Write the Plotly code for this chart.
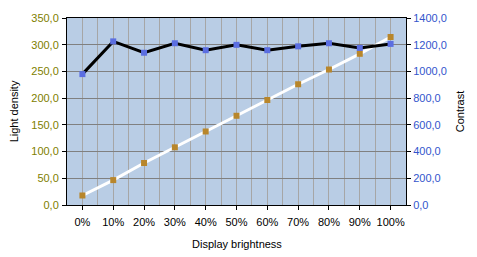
import plotly.graph_objects as go

categories = ["0%", "10%", "20%", "30%", "40%", "50%", "60%", "70%", "80%", "90%", "100%"]
light_density = [17.8, 46.6, 78.6, 108.0, 137.6, 167.0, 196.5, 226.0, 253.6, 283.0, 314.4]
contrast = [980, 1225, 1140, 1211, 1159, 1199, 1159, 1188, 1211, 1176, 1206]

xpos = list(range(len(categories)))
font = "Liberation Sans, Arial, sans-serif"

fig = go.Figure()
fig.add_trace(go.Scatter(
    x=xpos, y=contrast, yaxis="y2", mode="lines+markers",
    line=dict(color="black", width=3),
    marker=dict(symbol="square", size=6, color="#5B6EE1"),
    name="Contrast", showlegend=False))
fig.add_trace(go.Scatter(
    x=xpos, y=light_density, yaxis="y", mode="lines+markers",
    line=dict(color="white", width=3),
    marker=dict(symbol="square", size=6, color="#B8862B"),
    name="Light density", showlegend=False))

fig.update_layout(
    width=477, height=257,
    margin=dict(l=67, r=69, t=15, b=52),
    paper_bgcolor="white", plot_bgcolor="#B9CDE5",
    separators=",.",
    font=dict(family=font, size=11, color="black"),
    xaxis=dict(
        range=[-0.5, 10.5], tickvals=xpos, ticktext=categories,
        showgrid=True, gridcolor="#A6A6A6", gridwidth=1,
        minor=dict(tick0=-0.5, dtick=1, showgrid=True, gridcolor="#A6A6A6", gridwidth=1),
        ticks="outside", ticklen=4, tickcolor="black",
        ticklabelstandoff=3, automargin=False,
        showline=True, linecolor="black", linewidth=1, mirror=True,
        zeroline=False, fixedrange=True,
        tickfont=dict(size=11, color="black"),
    ),
    yaxis=dict(
        range=[0, 350], dtick=50, tickformat=".1f",
        showgrid=True, gridcolor="#808080", gridwidth=1,
        ticks="outside", ticklen=4, tickcolor="black",
        ticklabelstandoff=1,
        showline=True, linecolor="black", linewidth=1,
        zeroline=False,
        title=dict(text="Light density", font=dict(size=11), standoff=10),
        tickfont=dict(size=11, color="#808000"),
    ),
    yaxis2=dict(
        range=[0, 1400], dtick=200, tickformat=".1f",
        overlaying="y", side="right", showgrid=False,
        ticks="outside", ticklen=4, tickcolor="black",
        showline=True, linecolor="black", linewidth=1,
        zeroline=False,
        title=dict(text="Contrast", font=dict(size=11), standoff=10),
        tickfont=dict(size=11, color="#3355CC"),
    ),
    annotations=[dict(
        text="Display brightness", xref="paper", yref="paper",
        x=0.5, y=-40 / 190, xanchor="center", yanchor="middle",
        showarrow=False, font=dict(size=11, color="black"),
    )],
)

fig.write_html("out.html")
